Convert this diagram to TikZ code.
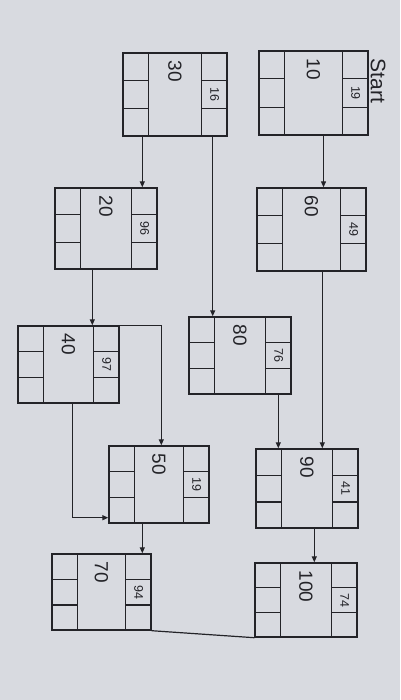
\documentclass[tikz,border=0pt]{standalone}
\usepackage{fontspec}
\setmainfont{Liberation Sans}
\usetikzlibrary{arrows.meta,calc}
\definecolor{photobg}{RGB}{216,218,224}
\definecolor{ink}{RGB}{35,35,40}

\newcommand{\colw}{26}
\newcommand{\taskcells}[3]{%
\draw[cell] ($(#1.north west)+(\colw,0)$) -- ($(#1.south west)+(\colw,0)$);
\draw[cell] ($(#1.north east)-(\colw,0)$) -- ($(#1.south east)-(\colw,0)$);
\draw[cell] ($(#1.north west)!1/3!(#1.south west)$) -- ++(\colw,0);
\draw[cell] ($(#1.north west)!2/3!(#1.south west)$) -- ++(\colw,0);
\draw[cell] ($(#1.north east)!1/3!(#1.south east)$) -- ++(-\colw,0);
\draw[cell] ($(#1.north east)!2/3!(#1.south east)$) -- ++(-\colw,0);
\node[tasklabel] (#1l) at ($(#1.north)+(0,8)$) {#2};
\node[tasknum] (#1n) at ($(#1.east)-(\colw/2,0)$) {#3};
}

\begin{document}
\begin{tikzpicture}[x=1pt,y=-1pt,
  taskbox/.style 2 args={draw=ink,line width=1.4pt,minimum width=#1,minimum height=#2,inner sep=0pt},
  cell/.style={draw=ink,line width=1.2pt},
  tasklabel/.style={rotate=-90,anchor=west,inner sep=0pt,text=ink,font=\fontsize{19}{19}\selectfont},
  tasknum/.style={rotate=-90,inner sep=0pt,text=ink,font=\fontsize{12.5}{12.5}\selectfont},
  startlabel/.style={rotate=-90,inner sep=0pt,text=ink,font=\fontsize{21}{21}\selectfont},
  arr/.style={draw=ink,line width=1.2pt,-{Triangle[length=6pt,width=5pt]}}]
\fill[photobg] (0,0) rectangle (400,700);
\node[startlabel] (start) at (378,81) {Start};
\node[taskbox={109pt}{84pt}] (n10) at (313.5,93) {};
\node[taskbox={104pt}{83pt}] (n30) at (175,94.5) {};
\node[taskbox={109pt}{83pt}] (n60) at (311.5,229.5) {};
\node[taskbox={102pt}{81pt}] (n20) at (106,228.5) {};
\node[taskbox={102pt}{77pt}] (n80) at (240,355.5) {};
\node[taskbox={101pt}{77pt}] (n40) at (68.5,364.5) {};
\node[taskbox={100pt}{77pt}] (n50) at (159,484.5) {};
\node[taskbox={102pt}{79pt}] (n90) at (307,488.5) {};
\node[taskbox={99pt}{76pt}] (n70) at (101.5,592) {};
\node[taskbox={102pt}{74pt}] (n100) at (306,600) {};
\taskcells{n10}{10}{19}
\taskcells{n30}{30}{16}
\taskcells{n60}{60}{49}
\taskcells{n20}{20}{96}
\taskcells{n80}{80}{76}
\taskcells{n40}{40}{97}
\taskcells{n50}{50}{19}
\taskcells{n90}{90}{41}
\taskcells{n70}{70}{94}
\taskcells{n100}{100}{74}
\draw[arr] ([xshift=10pt]n10.south) -- ([xshift=10pt]n10.south |- n60.north);
\draw[arr] ([xshift=20pt]n30.south west) -- ([xshift=20pt]n30.south west |- n20.north);
\draw[arr] ([xshift=-15pt]n30.south east) -- ([xshift=-15pt]n30.south east |- n80.north);
\draw[arr] ([xshift=38pt]n20.south west) -- ([xshift=38pt]n20.south west |- n40.north);
\draw[arr] ([xshift=38pt]n20.south west |- n40.north) -| ([xshift=53pt]n50.north west);
\draw[arr] ([xshift=4pt]n40.south) |- ([yshift=6pt]n50.south west);
\draw[arr] ([xshift=34pt]n50.south west) -- ([xshift=34pt]n50.south west |- n70.north);
\draw[arr] ([xshift=66pt]n60.south west) -- ([xshift=66pt]n60.south west |- n90.north);
\draw[arr] ([xshift=90pt]n80.south west) -- ([xshift=90pt]n80.south west |- n90.north);
\draw[arr] ([xshift=59pt]n90.south west) -- ([xshift=59pt]n90.south west |- n100.north);
\draw[cell] (n70.south east) -- (n100.south west);
\end{tikzpicture}
\end{document}
